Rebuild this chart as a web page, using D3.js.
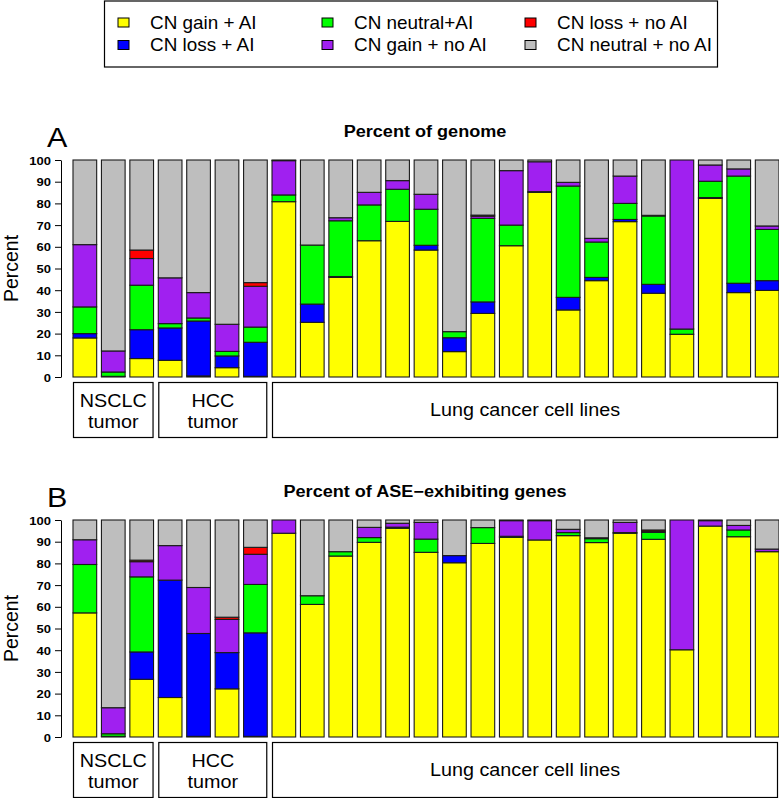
<!DOCTYPE html>
<html><head><meta charset="utf-8">
<script src="https://cdn.jsdelivr.net/npm/d3@7"></script>
<style>body{margin:0;background:#fff}svg{display:block}text{font-family:"Liberation Sans",Arial,Helvetica,sans-serif}</style>
</head><body><svg id="c" width="779" height="798"></svg>
<script>
// ---------- data ----------
const samples = ["NSCLC 1","NSCLC 2","NSCLC 3","HCC 1","HCC 2","HCC 3","HCC 4",
  "Line 1","Line 2","Line 3","Line 4","Line 5","Line 6","Line 7","Line 8","Line 9",
  "Line 10","Line 11","Line 12","Line 13","Line 14","Line 15","Line 16","Line 17","Line 18"];
const seriesNames = ["CN gain + AI","CN loss + AI","CN neutral+AI","CN gain + no AI","CN loss + no AI","CN neutral + no AI"];
const seriesColors = ["#FFFF00","#0000FF","#00FF00","#A020F0","#FF0000","#BEBEBE"];
const groups = ["NSCLC\ntumor","HCC\ntumor","Lung cancer cell lines"];
const groupSizes = [3,4,18];
const yTicks = [0,10,20,30,40,50,60,70,80,90,100];

// Panel A: percent of genome
const genomeGainAI     = [18,0,8.5,7.7,0.5,4.3,0.3, 80.8,25.2,45.9,62.8,71.7,58.5,11.7,29.3,60.5,85.1,30.9,44.4,71.6,38.6,19.7,82.3,38.9,39.9];
const genomeLossAI     = [2,0.3,13.3,14.9,25.3,5.4,15.7, 0,8.4,0.4,0,0,2.2,6.4,5.3,0,0,5.8,1.5,1,4.1,0,0.4,4.3,4.5];
const genomeNeutralAI  = [12.3,2,20.5,2,1.4,2.1,7, 3.1,27.2,25.7,16.5,14.8,16.6,2.8,38.5,9.5,0.3,51.3,16.3,7.4,31.5,2.4,7.5,49.4,23.6];
const genomeGainNoAI   = [28.7,9.7,12.3,21.1,11.7,12.5,18.8, 15.8,0,1.4,5.8,4,6.9,0,1,25.1,13.8,1.7,1.7,12.6,0.3,77.9,7.5,3.3,1.6];
const genomeLossNoAI   = [0,0,3.9,0,0,0,1.7, 0,0,0,0,0,0,0,0.5,0,0,0,0,0,0,0,0,0,0];
const genomeNeutralNoAI= [39,88,41.5,54.3,61.1,75.7,56.5, 0.3,39.2,26.6,14.9,9.5,15.8,79.1,25.4,4.9,0.8,10.3,36.1,7.4,25.5,0,2.3,4.1,30.4];

// Panel B: percent of ASE-exhibiting genes
const aseGainAI     = [57.2,0,26.6,18.2,0.3,22.2,0.3, 93.9,61.1,83.4,89.7,96.2,85.1,80.3,89.2,92,90.8,92.8,89.6,93.9,91.1,40.2,97.2,92.3,85.4];
const aseLossAI     = [0,0.3,12.6,54.1,47.4,16.7,47.7, 0,0,0,0,0,0,3.3,0,0,0,0,0,0,0,0,0,0,0];
const aseNeutralAI  = [22.3,1.2,34.6,0,0,0,22.3, 0,4,2,2.2,0.5,6.1,0,7.3,0.5,0,1.4,1.8,0.3,3.2,0,0,3.1,0];
const aseGainNoAI   = [11.4,12,7,15.9,21.2,15.3,13.9, 6.1,0,0,4.7,1.8,7.7,0,0,7.2,8.9,1.5,0.4,4.7,0.5,59.8,2.5,2.1,1.2];
const aseLossNoAI   = [0,0,0.7,0,0,1,3.2, 0,0,0,0,0,0,0,0,0,0,0,0,0,0.6,0,0,0,0];
const aseNeutralNoAI= [9.1,86.5,18.5,11.8,31.1,44.8,12.6, 0,34.9,14.6,3.4,1.5,1.1,16.4,3.5,0.3,0.3,4.3,8.2,1.1,4.6,0,0.3,2.5,13.4];

// ---------- drawing ----------
const svg = d3.select("#c");
const FONT = '"Liberation Sans",Arial,Helvetica,sans-serif';
const SX = 1.13; // horizontal stretch of text in reference

function stext(g, x, y, str, size, weight, anchor) {
  return g.append("text")
    .attr("transform", `translate(${x},${y}) scale(${SX},1)`)
    .attr("text-anchor", anchor || "start")
    .attr("font-size", size).attr("font-weight", weight || "normal")
    .attr("fill", "#000").text(str);
}

const x = d3.scaleBand().domain(samples).range([73, 779]).paddingInner(0.167).paddingOuter(0);

function panel(letter, title, arrays, top, bottom, boxTop, boxBottom, titleY) {
  const g = svg.append("g");
  const y = d3.scaleLinear().domain([0, 100]).range([bottom, top]);
  const rows = samples.map((s, i) => {
    const r = {sample: s};
    seriesNames.forEach((k, j) => r[k] = arrays[j][i]);
    return r;
  });
  const stacked = d3.stack().keys(seriesNames)(rows);
  stacked.forEach((layer, j) => {
    g.append("g").selectAll("rect").data(layer).join("rect")
      .attr("x", d => x(d.data.sample))
      .attr("width", x.bandwidth())
      .attr("y", d => y(d[1]))
      .attr("height", d => Math.max(0, y(d[0]) - y(d[1])))
      .attr("fill", seriesColors[j])
      .attr("stroke", "#1a1a1a").attr("stroke-width", 1.1);
  });
  // axis
  const ax = g.append("g").attr("transform", "translate(61,0)")
    .call(d3.axisLeft(y).tickValues(yTicks).tickSize(6).tickSizeOuter(0).tickFormat(d3.format("d")));
  ax.select(".domain").attr("stroke", "#000").attr("stroke-width", 1);
  ax.selectAll(".tick line").attr("stroke", "#000").attr("stroke-width", 1);
  ax.selectAll(".tick text")
    .attr("x", null).attr("dy", "0.36em")
    .attr("transform", `translate(-10,0) scale(${SX},1)`)
    .attr("font-family", FONT).attr("font-size", 11.5).attr("font-weight", "bold").attr("fill", "#000");
  // y label
  g.append("text")
    .attr("transform", `translate(18,${(top + bottom) / 2}) rotate(-90) scale(1,1.05)`)
    .attr("text-anchor", "middle").attr("font-size", 19.5).attr("fill", "#000").text("Percent");
  // letter
  stext(g, 47, top - 13, letter, 27, "normal", "start");
  // title
  stext(g, 425, titleY, title, 16, "bold", "middle");
  // group boxes
  let start = 0;
  groups.forEach((name, gi) => {
    const first = samples[start], last = samples[start + groupSizes[gi] - 1];
    const x0 = x(first), x1 = Math.min(x(last) + x.bandwidth(), 778);
    g.append("rect").attr("x", x0 + 0.5).attr("y", boxTop + 0.5)
      .attr("width", x1 - x0 - 1).attr("height", boxBottom - boxTop)
      .attr("fill", "#fff").attr("stroke", "#000").attr("stroke-width", 1.2);
    const lines = name.split("\n");
    const cx = (x0 + x1) / 2;
    if (lines.length === 2) {
      stext(g, cx, boxTop + 25, lines[0], 17.5, "normal", "middle");
      stext(g, cx, boxTop + 46, lines[1], 17.5, "normal", "middle");
    } else {
      stext(g, cx, boxTop + 34, lines[0], 17.5, "normal", "middle");
    }
    start += groupSizes[gi];
  });
}

panel("A", "Percent of genome",
  [genomeGainAI, genomeLossAI, genomeNeutralAI, genomeGainNoAI, genomeLossNoAI, genomeNeutralNoAI],
  160, 377, 382, 437, 137);
panel("B", "Percent of ASE\u2212exhibiting genes",
  [aseGainAI, aseLossAI, aseNeutralAI, aseGainNoAI, aseLossNoAI, aseNeutralNoAI],
  520, 737, 742, 797, 497);

// legend
const lg = svg.append("g");
lg.append("rect").attr("x", 104.5).attr("y", 1).attr("width", 613).attr("height", 66)
  .attr("fill", "#fff").attr("stroke", "#000").attr("stroke-width", 1.2);
const colX = [118, 322, 525];
const rowY = [22.5, 45];
seriesNames.forEach((n, i) => {
  const c = Math.floor(i / 2), r = i % 2;
  lg.append("rect").attr("x", colX[c]).attr("y", rowY[r] - 4.5).attr("width", 11).attr("height", 9)
    .attr("fill", seriesColors[i]).attr("stroke", "#000").attr("stroke-width", 1);
  lg.append("text")
    .attr("transform", `translate(${colX[c] + 32},${rowY[r] + 6}) scale(1.08,1)`)
    .attr("font-size", 17.5).attr("fill", "#000").text(n);
});
</script></body></html>
